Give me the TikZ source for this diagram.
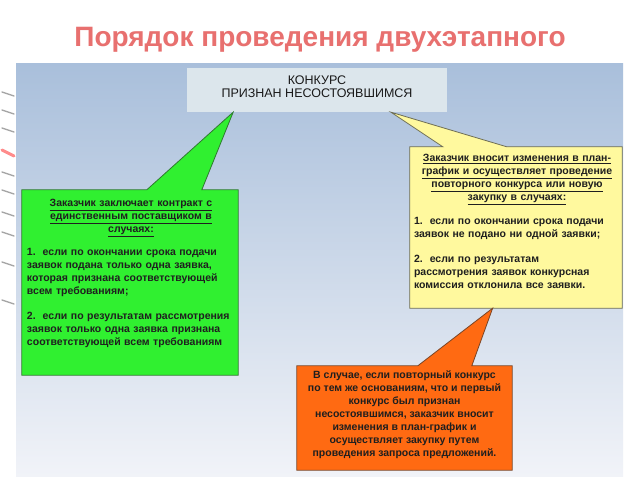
\documentclass[tikz,border=0pt]{standalone}
\usepackage{fontspec}
\setmainfont{Liberation Sans}
\usetikzlibrary{calc, positioning}

\definecolor{titlered}{HTML}{E8706F}
\definecolor{panelTop}{HTML}{A9BFDB}
\definecolor{panelBot}{HTML}{F1F3F8}
\definecolor{resgray}{HTML}{DCE6EC}
\definecolor{limegreen}{HTML}{30F030}
\definecolor{darkgreen}{HTML}{2F7A2F}
\definecolor{paleyellow}{HTML}{FFF99E}
\definecolor{yellowedge}{HTML}{6E6E55}
\definecolor{orangefill}{HTML}{FF6A12}
\definecolor{orangeedge}{HTML}{7A4526}

\tikzset{
  bubble/.style={line width=0.8pt, line join=miter},
  bubbletext/.style={inner sep=0pt, align=left, text=black!88,
    font=\bfseries\fontsize{10.5}{13}\selectfont},
  frame/.style={inner sep=0pt}
}

\begin{document}
\begin{tikzpicture}[x=1pt,y=-1pt]
        \useasboundingbox (0,0) rectangle (640,480);
        \fill[white] (0,0) rectangle (640,480);

        % panel and left strokes
        \shade[top color=panelTop, bottom color=panelBot] (16,63) rectangle (623,476);
        \foreach \yy in {92,110,128,172,190,212,232,262,300}
            \draw[gray!70, line width=1.3pt, line cap=round] (2,\yy) -- (14,\yy+4);
        \draw[red!45, line width=3pt, line cap=round] (2,150) -- (14,156);

        % title
        \node[font=\bfseries\fontsize{28}{32}\selectfont, text=titlered] (title) at (320,40) {Порядок проведения двухэтапного};

        % result
        \node[fill=resgray, minimum width=260pt, minimum height=44pt, inner sep=0pt] (result) at (317,90) {};
        \node[inner sep=0pt, align=center, font=\fontsize{12.5}{13}\selectfont, text=black!90] (resulttext) at (317,87) {КОНКУРС\\ПРИЗНАН НЕСОСТОЯВШИМСЯ};

        % boxes
        \node[frame, minimum width=216pt, minimum height=185pt] (gbox) at (130,282.5) {};
        \node[frame, minimum width=212pt, minimum height=161pt] (ybox) at (516,227.5) {};
        \node[frame, minimum width=215pt, minimum height=104pt] (obox) at (404.5,418) {};

        \coordinate (gtip) at ($(result.south west)!0.178!(result.south east)$);
        \coordinate (ytip) at ($(result.south west)!0.784!(result.south east)$);
        \coordinate (otip) at ($(ybox.south west)!0.39!(ybox.south east)$);

        \draw[bubble, fill=limegreen, draw=darkgreen] (gbox.north west) -- ++(125,0) -- (gtip)
            -- ($(gbox.north west)+(180,0)$) -- (gbox.north east) -- (gbox.south east) -- (gbox.south west) -- cycle;
        \draw[bubble, fill=paleyellow, draw=yellowedge] (ybox.north west) -- ++(33,0) -- (ytip)
            -- ($(ybox.north west)+(97,0)$) -- (ybox.north east) -- (ybox.south east) -- (ybox.south west) -- cycle;
        \draw[bubble, fill=orangefill, draw=orangeedge] (obox.north west) -- ++(121,0) -- (otip)
            -- ($(obox.north west)+(175,0)$) -- (obox.north east) -- (obox.south east) -- (obox.south west) -- cycle;

        % texts
        \node[bubbletext, text width=208pt, anchor=north west] (gtext) at ($(gbox.north west)+(5,9)$) {%
            {\centering\underline{Заказчик заключает контракт с}\\\underline{единственным поставщиком в}\\\underline{случаях:}\par}
            \vspace{10pt}
            1.\ \ если по окончании срока подачи\\заявок подана только одна заявка,\\которая признана соответствующей\\всем требованиям;\par
            \vspace{12pt}
            2.\ \ если по результатам рассмотрения\\заявок только одна заявка признана\\соответствующей всем требованиям};
        \node[bubbletext, text width=206pt, anchor=north west] (ytext) at ($(ybox.north west)+(4,7)$) {%
            {\centering\underline{Заказчик вносит изменения в план-}\\\underline{график и осуществляет проведение}\\\underline{повторного конкурса или новую}\\\underline{закупку в случаях:}\par}
            \vspace{11pt}
            1.\ \ если по окончании срока подачи\\заявок не подано ни одной заявки;\par
            \vspace{12pt}
            2.\ \ если по результатам\\рассмотрения заявок конкурсная\\комиссия отклонила все заявки.};
        \node[bubbletext, align=center, anchor=north] (otext) at ($(obox.north)+(0,5)$) {%
            В случае, если повторный конкурс\\по тем же основаниям, что и первый\\конкурс был признан\\несостоявшимся, заказчик вносит\\изменения в план-график и\\осуществляет закупку путем\\проведения запроса предложений.};
\end{tikzpicture}
\end{document}
